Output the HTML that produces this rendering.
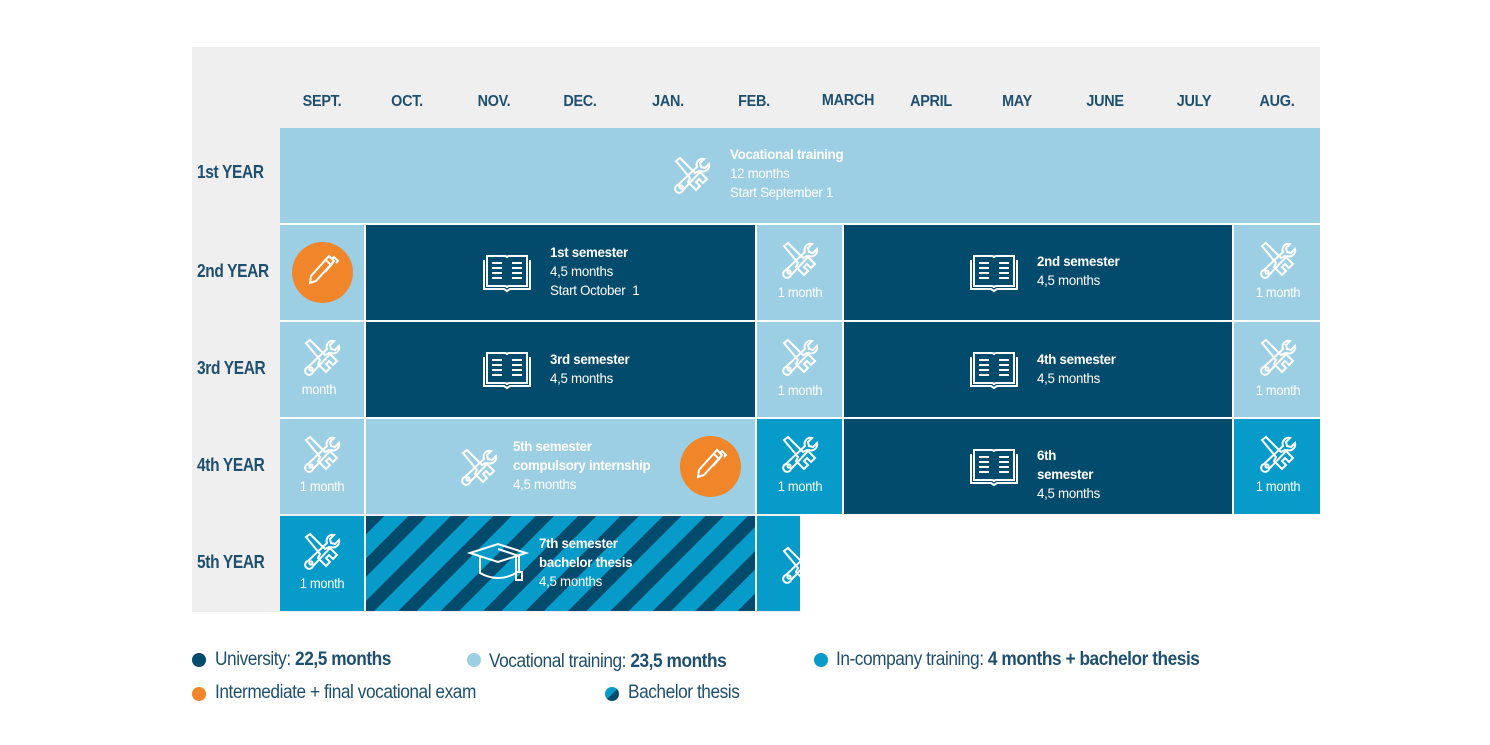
<!DOCTYPE html>
<html><head><meta charset="utf-8"><style>
body{margin:0;width:1490px;height:745px;background:#fff;position:relative;overflow:hidden;font-family:"Liberation Sans",sans-serif;}
.a{position:absolute}
.c{position:absolute;overflow:hidden}
.L{background:#9dcfe4}.D{background:#034b6d}.T{background:#079bc9}
.h{position:absolute;top:93px;font-weight:bold;font-size:16px;color:#1f4f6e;transform:translateX(-50%) scaleX(0.9);letter-spacing:-0.3px}
.y{position:absolute;left:197px;font-weight:bold;font-size:18px;color:#1f4f6e;letter-spacing:-0.4px;transform:scaleX(0.86);transform-origin:0 0}
.t{position:absolute;color:#fff;font-size:14px;line-height:19px;letter-spacing:-0.3px;white-space:nowrap;transform:scaleX(0.95);transform-origin:0 0}
.t b{font-size:14px}
.m{position:absolute;color:#fff;font-size:14px;letter-spacing:-0.3px;transform:translateX(-50%) scaleX(0.92);white-space:nowrap}
.lg{position:absolute;font-size:19px;color:#1f4f6e;letter-spacing:-0.5px;white-space:nowrap;transform:scaleX(0.91);transform-origin:0 0}
.dot{position:absolute;width:14px;height:14px;border-radius:50%}
</style></head><body>
<svg width="0" height="0" style="position:absolute">
<defs>
<g id="wr" fill="none" stroke="#fff" stroke-width="2">
<path d="M3 5 L7 2 L22 17 L26 15 L34 23 L30 27 L26 23 L23 26 L27 30 L23 34 L15 26 L17 22 Z"/>
<path d="M31 3 a6 6 0 0 0 -7 8 L5 29 a4 4 0 1 0 5 5 L28 15 a6 6 0 0 0 8 -7 l-4 4 -4 -1 -1 -4 z"/>
<circle cx="8" cy="31" r="1.6"/>
</g>
<g id="bk" fill="none" stroke="#fff" stroke-width="2">
<path d="M5 4 h18 q2 0 2 2 q0 -2 2 -2 h18 v30 h-18 q-2 0 -2 2 q0 -2 -2 -2 h-18 z"/>
<path d="M2 8 v29 h20 l3 2 l3 -2 h20 v-29"/>
<path d="M10 11h10M10 16h10M10 21h10M10 26h10M30 11h10M30 16h10M30 21h10M30 26h10"/>
</g>
<g id="pc" fill="none" stroke="#fff" stroke-width="2">
<path d="M24 2 l5 5 l-18 20 l-6 2 l1 -7 z M21 6 l5 5 M27 5 l2 -2 l4 4 l-2 2 M28 9 l-8 9"/>
</g>
<pattern id="st" width="30" height="30" patternUnits="userSpaceOnUse" patternTransform="rotate(45)">
<rect width="30" height="30" fill="#079bc9"/><rect width="13" height="30" fill="#034b6d"/>
</pattern>
</defs></svg>

<div class="a" style="left:192px;top:47px;width:1128px;height:81px;background:#efefef"></div>
<div class="a" style="left:192px;top:128px;width:88px;height:484px;background:#efefef"></div>
<div class="a" style="left:280px;top:514px;width:520px;height:98px;background:#efefef"></div>

<div class="h" style="left:322px">SEPT.</div><div class="h" style="left:407px">OCT.</div><div class="h" style="left:494px">NOV.</div><div class="h" style="left:580px">DEC.</div><div class="h" style="left:668px">JAN.</div><div class="h" style="left:754px">FEB.</div><div class="h" style="left:848px;top:92px">MARCH</div><div class="h" style="left:931px">APRIL</div><div class="h" style="left:1017px">MAY</div><div class="h" style="left:1105px">JUNE</div><div class="h" style="left:1194px">JULY</div><div class="h" style="left:1277px">AUG.</div>

<div class="y" style="top:162px">1st YEAR</div>
<div class="y" style="top:261px">2nd YEAR</div>
<div class="y" style="top:358px">3rd YEAR</div>
<div class="y" style="top:455px">4th YEAR</div>
<div class="y" style="top:552px">5th YEAR</div>

<!-- row1 -->
<div class="c L" style="left:280px;top:128px;width:1040px;height:95px"></div>
<svg class="a" style="left:673px;top:156px" width="38" height="38"><use href="#wr"/></svg>
<div class="t" style="left:730px;top:145px"><b>Vocational training</b><br>12 months<br>Start September 1</div>

<!-- row2 -->
<div class="c L" style="left:280px;top:225px;width:84px;height:95px"></div>
<div class="a" style="left:292px;top:242px;width:61px;height:61px;border-radius:50%;background:#f0852a"></div>
<svg class="a" style="left:305px;top:254px" width="36" height="36"><use href="#pc"/></svg>
<div class="c D" style="left:366px;top:225px;width:389px;height:95px"></div>
<svg class="a" style="left:482px;top:252px" width="52" height="42"><use href="#bk"/></svg>
<div class="t" style="left:550px;top:243px"><b>1st semester</b><br>4,5 months<br>Start October &nbsp;1</div>
<div class="c L" style="left:757px;top:225px;width:85px;height:95px"></div>
<svg class="a" style="left:781px;top:241px" width="38" height="38"><use href="#wr"/></svg>
<div class="m" style="left:800px;top:284px">1 month</div>
<div class="c D" style="left:844px;top:225px;width:388px;height:95px"></div>
<svg class="a" style="left:969px;top:252px" width="52" height="42"><use href="#bk"/></svg>
<div class="t" style="left:1037px;top:252px"><b>2nd semester</b><br>4,5 months</div>
<div class="c L" style="left:1234px;top:225px;width:86px;height:95px"></div>
<svg class="a" style="left:1259px;top:241px" width="38" height="38"><use href="#wr"/></svg>
<div class="m" style="left:1278px;top:284px">1 month</div>

<!-- row3 -->
<div class="c L" style="left:280px;top:322px;width:84px;height:95px"></div>
<svg class="a" style="left:303px;top:338px" width="38" height="38"><use href="#wr"/></svg>
<div class="m" style="left:319px;top:381px">month</div>
<div class="c D" style="left:366px;top:322px;width:389px;height:95px"></div>
<svg class="a" style="left:482px;top:349px" width="52" height="42"><use href="#bk"/></svg>
<div class="t" style="left:550px;top:350px"><b>3rd semester</b><br>4,5 months</div>
<div class="c L" style="left:757px;top:322px;width:85px;height:95px"></div>
<svg class="a" style="left:781px;top:338px" width="38" height="38"><use href="#wr"/></svg>
<div class="m" style="left:800px;top:382px">1 month</div>
<div class="c D" style="left:844px;top:322px;width:388px;height:95px"></div>
<svg class="a" style="left:969px;top:349px" width="52" height="42"><use href="#bk"/></svg>
<div class="t" style="left:1037px;top:350px"><b>4th semester</b><br>4,5 months</div>
<div class="c L" style="left:1234px;top:322px;width:86px;height:95px"></div>
<svg class="a" style="left:1259px;top:338px" width="38" height="38"><use href="#wr"/></svg>
<div class="m" style="left:1278px;top:382px">1 month</div>

<!-- row4 -->
<div class="c L" style="left:280px;top:419px;width:84px;height:95px"></div>
<svg class="a" style="left:303px;top:435px" width="38" height="38"><use href="#wr"/></svg>
<div class="m" style="left:322px;top:478px">1 month</div>
<div class="c L" style="left:366px;top:419px;width:389px;height:95px"></div>
<svg class="a" style="left:460px;top:448px" width="38" height="38"><use href="#wr"/></svg>
<div class="t" style="left:513px;top:437px"><b>5th semester<br>compulsory internship</b><br>4,5 months</div>
<div class="a" style="left:680px;top:436px;width:61px;height:61px;border-radius:50%;background:#f0852a"></div>
<svg class="a" style="left:693px;top:448px" width="36" height="36"><use href="#pc"/></svg>
<div class="c T" style="left:757px;top:419px;width:85px;height:95px"></div>
<svg class="a" style="left:781px;top:435px" width="38" height="38"><use href="#wr"/></svg>
<div class="m" style="left:800px;top:478px">1 month</div>
<div class="c D" style="left:844px;top:419px;width:388px;height:95px"></div>
<svg class="a" style="left:969px;top:446px" width="52" height="42"><use href="#bk"/></svg>
<div class="t" style="left:1037px;top:446px"><b>6th<br>semester</b><br>4,5 months</div>
<div class="c T" style="left:1234px;top:419px;width:86px;height:95px"></div>
<svg class="a" style="left:1259px;top:435px" width="38" height="38"><use href="#wr"/></svg>
<div class="m" style="left:1278px;top:478px">1 month</div>

<!-- row5 -->
<div class="c T" style="left:280px;top:516px;width:84px;height:95px"></div>
<svg class="a" style="left:303px;top:532px" width="38" height="38"><use href="#wr"/></svg>
<div class="m" style="left:322px;top:575px">1 month</div>
<svg class="a" style="left:366px;top:516px" width="389" height="95"><rect width="389" height="95" fill="url(#st)"/>
<g fill="none" stroke="#fff" stroke-width="2"><path d="M104 37 L132 28 L160 37 L132 46 Z"/><path d="M114 41 v16 q18 10 36 0 v-16"/><path d="M132 33 L153 40 v16"/><rect x="150" y="56" width="6" height="8"/></g></svg>
<div class="t" style="left:539px;top:534px"><b>7th semester<br>bachelor thesis</b><br>4,5 months</div>
<div class="c T" style="left:757px;top:516px;width:43px;height:95px"><svg class="a" style="left:24px;top:30px" width="38" height="38"><use href="#wr"/></svg></div>

<!-- legend -->
<div class="dot" style="left:192px;top:653px;background:#034b6d"></div>
<div class="lg" style="left:215px;top:649px">University: <b>22,5 months</b></div>
<div class="dot" style="left:467px;top:653px;background:#9dcfe4"></div>
<div class="lg" style="left:489px;top:651px">Vocational training: <b>23,5 months</b></div>
<div class="dot" style="left:814px;top:653px;background:#079bc9"></div>
<div class="lg" style="left:836px;top:649px">In-company training: <b>4 months + bachelor thesis</b></div>
<div class="dot" style="left:192px;top:687px;background:#f0852a"></div>
<div class="lg" style="left:215px;top:682px">Intermediate + final vocational exam</div>
<div class="dot" style="left:605px;top:687px;background:linear-gradient(135deg,#079bc9 50%,#034b6d 50%)"></div>
<div class="lg" style="left:628px;top:682px">Bachelor thesis</div>
</body></html>
